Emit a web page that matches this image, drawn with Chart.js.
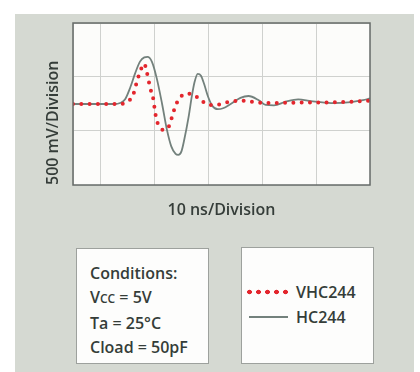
<!DOCTYPE html>
<html>
<head>
<meta charset="utf-8">
<script src="https://cdn.jsdelivr.net/npm/chart.js@4.4.1/dist/chart.umd.min.js"></script>
<style>
  html, body { margin: 0; padding: 0; background: #fff; }
  body { width: 420px; height: 372px; position: relative; overflow: hidden; font-family: 'Open Sans', sans-serif; color: #353d39; }
  .panel { position: absolute; left: 15px; top: 14px; width: 399px; height: 358px; background: #d5d9d2; }
  .chartBox { position: absolute; left: 0; top: 0; width: 420px; height: 240px; }
  .box { position: absolute; background: #fdfdfc; border: 1px solid #9da19d; box-sizing: border-box; font-weight: 600; font-size: 16px; }
  .conditions { left: 76px; top: 248px; width: 133px; height: 116px; padding: 12px 0 0 13px; line-height: 24px; }
  .conditions .sc { font-size: 12px; }
  .legend { left: 241px; top: 247px; width: 133px; height: 117px; }
  .legend .item { position: absolute; left: 0; width: 100%; height: 24px; line-height: 24px; }
  .legend .sample { position: absolute; top: 9px; height: 6px; }
  .legend .label { position: absolute; left: 54px; top: 0; }
</style>
</head>
<body>
<div class="panel"></div>
<div class="chartBox"><canvas id="scope" width="420" height="240"></canvas></div>
<div class="box conditions">
  <div>Conditions:</div>
  <div>V<span class="sc">CC</span> = 5V</div>
  <div>Ta = 25°C</div>
  <div>Cload = 50pF</div>
</div>
<div class="box legend" id="legend"></div>

<script>
// time in ns, voltage in mV (500 mV per division)
const vhcTime = [-5, 3.7, 4.65, 5.4, 6.0, 6.9, 7.8, 8.2, 8.7, 9.3, 9.9, 10.2, 10.6, 11.2, 11.7, 12.7, 13.6, 14.3, 15.3, 16.4, 17.1, 18.6, 20.1, 21.4, 23.3, 26.0, 27.9, 30.7, 37.2, 44.7, 50];
const vhcVolt = [0, 0, 10, 40, 75, 250, 395, 425, 330, 170, 45, -85, -190, -250, -275, -245, -85, 20, 95, 110, 105, 45, -10, -10, 15, 35, 25, 10, 15, 20, 35];

const hcTime = [-5, 2.8, 3.7, 4.65, 5.6, 6.5, 7.4, 8.2, 8.8, 9.6, 10.5, 11.5, 12.4, 13.2, 14.0, 14.5, 15.1, 15.6, 16.4, 17.0, 17.5, 18.1, 18.7, 19.3, 20.0, 20.8, 21.8, 22.8, 24.2, 26.0, 27.5, 29.4, 30.7, 32.2, 34.4, 36.7, 39.1, 42.8, 46.5, 48.7, 50];
const hcVolt = [0, 0, 10, 50, 175, 325, 450, 495, 500, 450, 275, 0, -275, -450, -530, -540, -500, -380, -140, 80, 230, 320, 300, 210, 80, -20, -55, -45, 0, 65, 85, 40, -10, -15, 25, 50, 30, 10, 20, 40, 60];

const timeRange = [-5, 50];
const voltRange = [-860, 860];
const timeStep = 10;
const voltStep = 500;

const seriesNames = ['VHC244', 'HC244'];
const xTitle = '10 ns/Division';
const yTitle = '500 mV/Division';

const red = '#e3262d';
const gray = '#73817c';
const textColor = '#353d39';

const toPoints = (xs, ys) => xs.map((x, i) => ({ x: x, y: ys[i] }));

const plotFrame = {
  id: 'plotFrame',
  beforeDraw(chart) {
    const { ctx, chartArea: { left, top, width, height } } = chart;
    ctx.save();
    ctx.fillStyle = '#fcfcfa';
    ctx.fillRect(left, top, width, height);
    ctx.restore();
  },
  afterDraw(chart) {
    const { ctx, chartArea: { left, top, width, height } } = chart;
    ctx.save();
    ctx.strokeStyle = '#666b68';
    ctx.lineWidth = 1.5;
    ctx.strokeRect(left, top, width, height);
    ctx.restore();
  }
};

const titleFont = { family: "'Open Sans', sans-serif", size: 16, weight: '600' };

const chart = new Chart(document.getElementById('scope'), {
  type: 'line',
  data: {
    datasets: [{
      label: seriesNames[0],
      data: toPoints(vhcTime, vhcVolt),
      borderColor: red,
      borderWidth: 4,
      borderDash: [0, 8.3],
      borderCapStyle: 'round',
      cubicInterpolationMode: 'monotone',
      pointRadius: 0,
      fill: false
    }, {
      label: seriesNames[1],
      data: toPoints(hcTime, hcVolt),
      borderColor: gray,
      borderWidth: 1.8,
      cubicInterpolationMode: 'monotone',
      pointRadius: 0,
      fill: false
    }]
  },
  options: {
    responsive: false,
    animation: false,
    events: [],
    layout: { padding: { left: 0, top: 23, right: 50, bottom: 0 } },
    plugins: { legend: { display: false }, tooltip: { enabled: false } },
    scales: {
      x: {
        type: 'linear',
        min: timeRange[0],
        max: timeRange[1],
        ticks: { stepSize: timeStep, display: false },
        grid: { color: '#cfd1ce', lineWidth: 1, drawTicks: false },
        border: { display: false },
        title: { display: true, text: xTitle, color: textColor, font: titleFont, padding: { top: 0, bottom: 20 } },
        afterFit: (scale) => { scale.height = 55; }
      },
      y: {
        type: 'linear',
        min: voltRange[0],
        max: voltRange[1],
        ticks: { stepSize: voltStep, display: false },
        grid: { color: '#cfd1ce', lineWidth: 1, drawTicks: false },
        border: { display: false },
        title: { display: true, text: yTitle, align: 'start', color: textColor, font: titleFont, padding: { top: 44, bottom: 0 } },
        afterFit: (scale) => { scale.width = 73; }
      }
    }
  },
  plugins: [plotFrame]
});

// legend in its own box, built from the chart's datasets
const legendBox = document.getElementById('legend');
chart.data.datasets.forEach((ds, i) => {
  const item = document.createElement('div');
  item.className = 'item';
  item.style.top = (32 + i * 25) + 'px';
  const sample = document.createElement('div');
  sample.className = 'sample';
  if (ds.borderDash && ds.borderDash.length) {
    sample.style.left = '3px';
    sample.style.width = '45px';
    sample.style.background = 'radial-gradient(circle, ' + ds.borderColor + ' 2.1px, transparent 2.6px) 0 0 / 9px 6px repeat-x';
  } else {
    sample.style.left = '7px';
    sample.style.width = '39px';
    sample.style.top = '11px';
    sample.style.height = '2px';
    sample.style.background = ds.borderColor;
  }
  const label = document.createElement('span');
  label.className = 'label';
  label.textContent = ds.label;
  item.appendChild(sample);
  item.appendChild(label);
  legendBox.appendChild(item);
});
</script>
</body>
</html>
